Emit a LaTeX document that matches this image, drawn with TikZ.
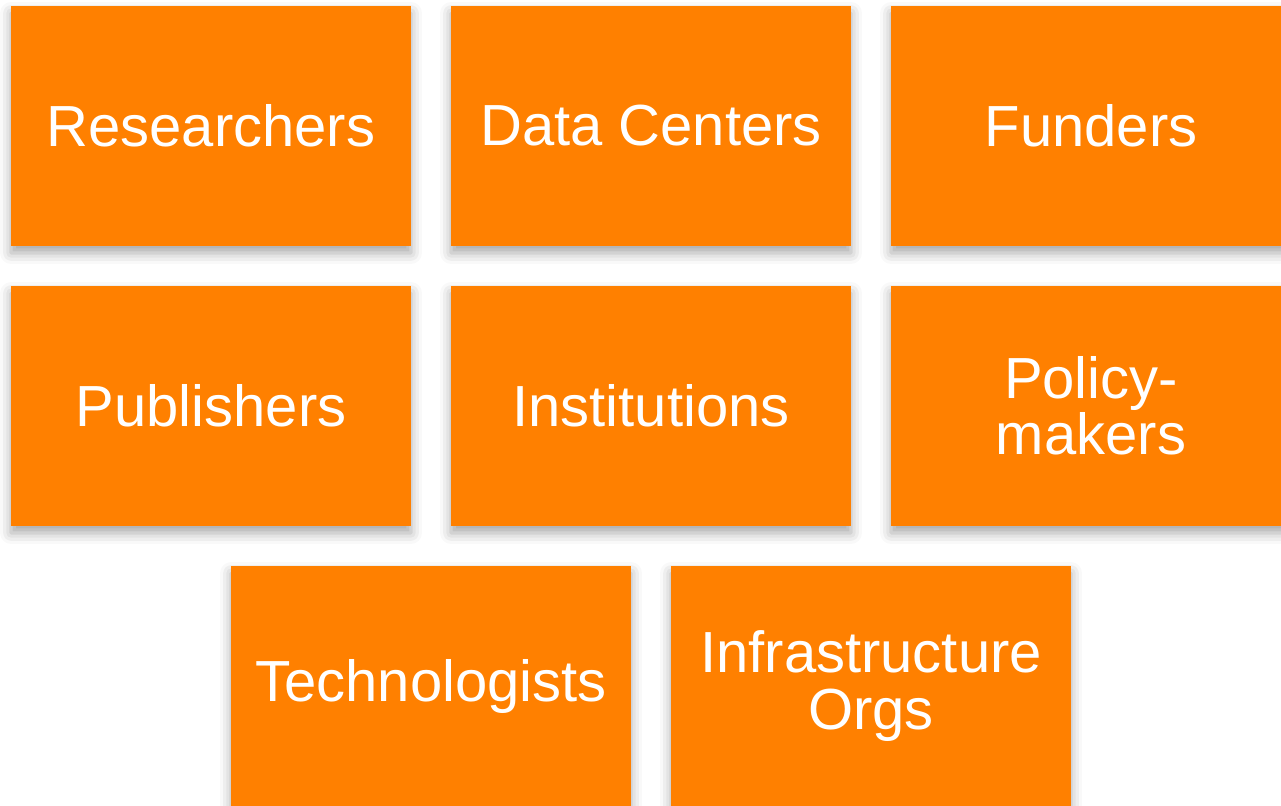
\documentclass[tikz,border=0pt]{standalone}
\usepackage{fontspec}
\setmainfont{Liberation Sans}
\usepackage{tikz}
\usetikzlibrary{shadows.blur}
\definecolor{tileorange}{RGB}{255,128,0}
\tikzset{
    tile/.style = {rectangle, fill=tileorange, text=white, align=center,
        minimum width=8cm, minimum height=4.8cm, inner sep=0pt,
        font=\fontsize{33}{32}\selectfont,
        blur shadow={shadow xshift=0pt, shadow yshift=-0.14cm, shadow blur radius=0.22cm, shadow opacity=35}},
}

\begin{document}
\begin{tikzpicture}[x=0.02cm,y=-0.02cm]
\useasboundingbox (0,0) rectangle (1281,805);
\clip (0,0) rectangle (1281,805);
%
\node[tile] at (211,126) (researchers) {Researchers};
\node[tile] at (651,126) (datacenters) {Data Centers};
\node[tile] at (1091,126) (funders) {Funders};
\node[tile] at (211,406) (publishers) {Publishers};
\node[tile] at (651,406) (institutions) {Institutions};
\node[tile] at (1091,406) (policy) {Policy-\\makers};
\node[tile] at (431,686) (technologists) {Technologists};
\node[tile] at (871,686) (infra) {Infrastructure\\Orgs};
\end{tikzpicture}
\end{document}
